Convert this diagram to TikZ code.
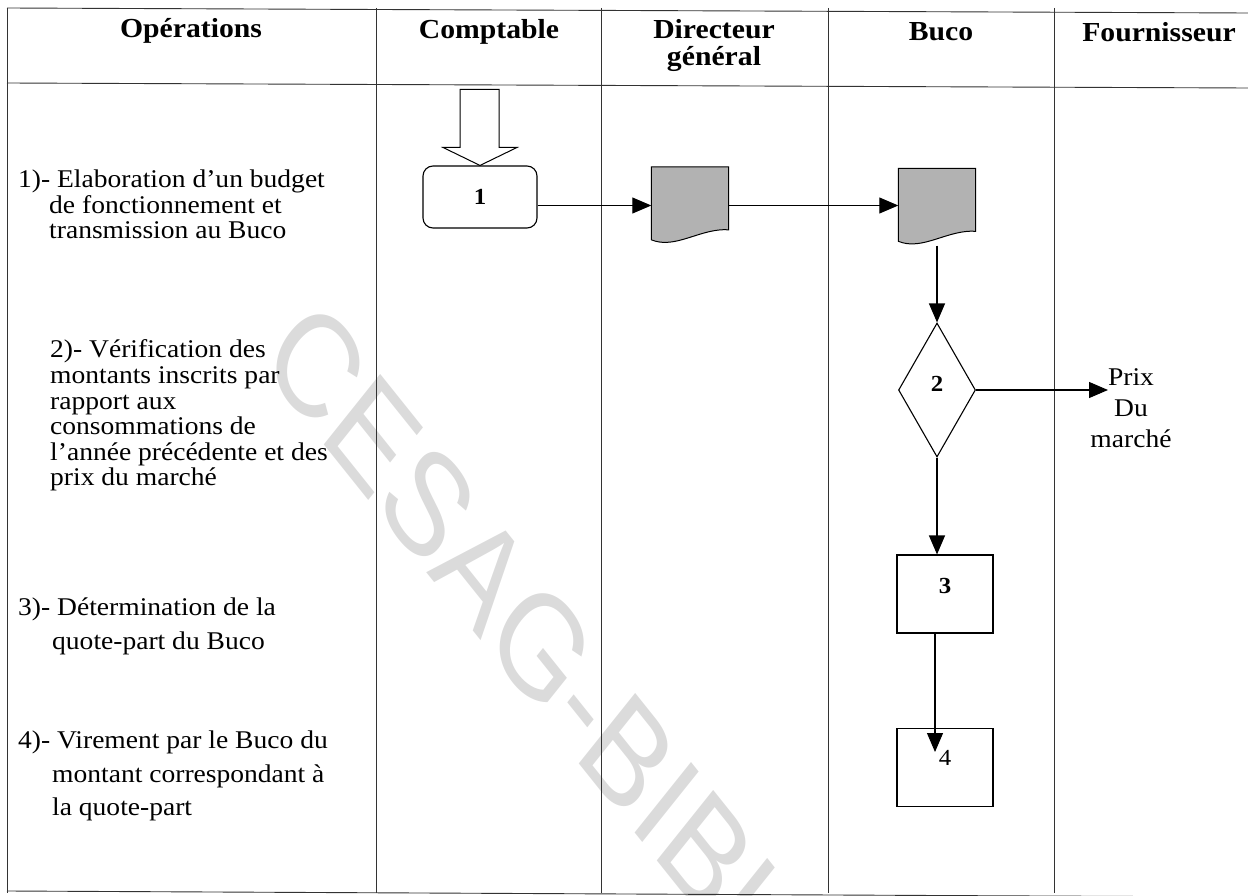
\documentclass[tikz,border=0pt]{standalone}
\usepackage{fontspec}
\setmainfont{Liberation Serif}[FakeStretch=1.08]
\newfontfamily\markfont{Liberation Sans}
\usetikzlibrary{arrows.meta,shapes.geometric,calc}

\begin{document}
\begin{tikzpicture}[x=1pt,y=-1pt,
  grid/.style={line width=0.9pt,black!80},
  flow/.style={line width=1.1pt,-{Triangle[length=19pt,width=16pt]}},
  headtext/.style={font=\fontsize{27.5}{27}\selectfont\bfseries,inner sep=0pt},
  optext/.style={font=\fontsize{25.5}{25.6}\selectfont,align=left,anchor=north west,inner sep=0pt},
  optextwide/.style={optext,font=\fontsize{25.5}{33.5}\selectfont},
  stepbox/.style={draw,line width=1.1pt,minimum width=96pt,minimum height=78pt,inner sep=0pt},
  startbox/.style={draw,line width=1.1pt,rounded corners=10pt,minimum width=114pt,minimum height=62pt,inner sep=0pt},
  decision/.style={draw,diamond,line width=1.1pt,minimum width=77pt,minimum height=134pt,inner sep=0pt},
  docframe/.style={minimum width=77pt,minimum height=77pt,inner sep=0pt},
  docshape/.style={fill=gray!60,draw=black,line width=1pt},
  numlabel/.style={font=\fontsize{23}{23}\selectfont\bfseries,inner sep=0pt},
  startarrow/.style={draw,line width=1pt,fill=white,line join=miter},
  watermark/.style={font=\markfont\fontsize{145}{145}\selectfont,text=black!14,inner sep=0pt},
]
\useasboundingbox (0,0) rectangle (1248,896);

% background stamp: diagonal lettering, slightly narrowed
\begin{scope}
  \clip (0,0) rectangle (1248,896);
  \begin{scope}[shift={(258,362)},xscale=0.8,rotate=-45]
    \node[watermark,transform shape,anchor=base west] (wm) at (0,0) {CESAG-BIBLIO};
  \end{scope}
\end{scope}

% table frame
\draw[grid] (7,8) -- (1248,13);
\draw[grid] (7,83) -- (1248,88);
\draw[grid] (7,891) -- (1248,897);
\foreach \cx in {7,376,601,828,1054}
  \draw[grid] (\cx,8) -- (\cx,893);

% column headings
\node[headtext,anchor=base] (hop) at (191,38) {Opérations};
\node[headtext,anchor=base] (hco) at (489,39) {Comptable};
\node[headtext,anchor=north,align=center] (hdg) at (714,19.5) {Directeur\\général};
\node[headtext,anchor=base] (hbu) at (941,41) {Buco};
\node[headtext,anchor=base] (hfo) at (1159,42) {Fournisseur};

% operations column
\node[optext] (op1) at (18,169.7) {1)- Elaboration d’un budget\\
  \hspace*{31pt}de fonctionnement et\\
  \hspace*{31pt}transmission au Buco};
\node[optext] (op2) at (50,339.7) {2)- Vérification des\\
  montants inscrits par\\
  rapport aux\\
  consommations de\\
  l’année précédente et des\\
  prix du marché};
\node[optextwide] (op3) at (18,597.7) {3)- Détermination de la\\
  \hspace*{34pt}quote-part du Buco};
\node[optextwide] (op4) at (18,730.7) {4)- Virement par le Buco du\\
  \hspace*{34pt}montant correspondant à\\
  \hspace*{34pt}la quote-part};

% flow steps
\node[startbox] (b1) at (480,197) {};
\node[numlabel] (n1) at (b1.center) {1};
\node[docframe] (d1) at (690,205.5) {};
\node[docframe] (d2) at (937,207) {};
\node[decision] (dm) at (937,390) {};
\node[numlabel] (n2) at ([yshift=6pt]dm.center) {2};
\node[stepbox] (b3) at (945,594) {};
\node[numlabel] (n3) at ([yshift=8pt]b3.center) {3};
\node[stepbox] (b4) at (945,767.5) {};
\node[numlabel,font=\fontsize{23}{23}\selectfont] (n4) at ([yshift=10pt]b4.center) {4};
\node[font=\fontsize{25.5}{31}\selectfont,align=center,anchor=north,inner sep=0pt] (mk) at (1131,368.6) {Prix\\Du\\marché};
\coordinate (prixpt) at (1108,390);
\coordinate (b4in) at (935,752);

% entry arrow
\draw[startarrow,shift={(b1.north)}] (-20,-76) -- (19,-76) -- (19,-18) -- (37,-18)
  -- (0,0) -- (-37,-18) -- (-20,-18) -- cycle;

% connectors
\draw[flow] (b1.east |- d1.west) -- (d1.west);
\draw[flow] (d1.east) -- (d1.east -| d2.west);
\draw[flow] (d2.south) -- (dm.north);
\draw[flow] (dm.east) -- (dm.east -| prixpt);
\draw[flow] (dm.south) -- (dm.south |- b3.north);
\draw[flow] (b3.south -| b4in) -- (b4in);

% document symbols
\foreach \dd in {d1,d2}
  \filldraw[docshape] (\dd.north west) -- (\dd.north east) -- ($(\dd.north east)+(0,63)$)
    .. controls ($(\dd.north east)+(-28,61)$) and ($(\dd.north west)+(24,83)$)
    .. ($(\dd.north west)+(0,73)$) -- cycle;
\end{tikzpicture}
\end{document}
